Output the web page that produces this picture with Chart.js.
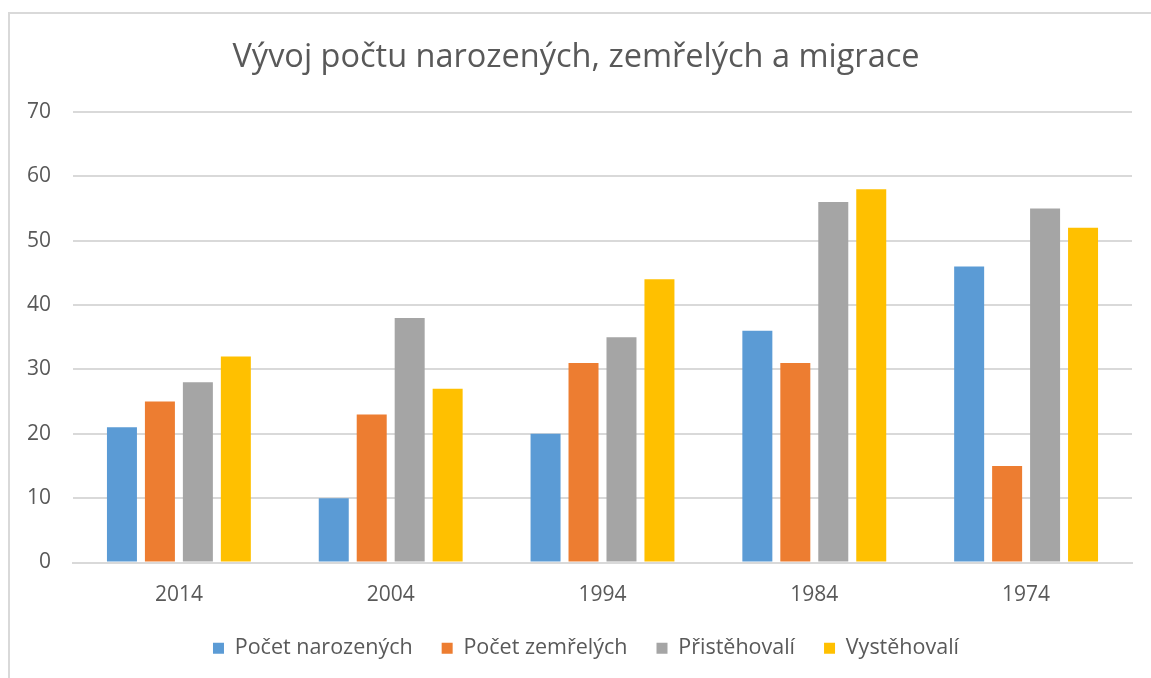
<!DOCTYPE html>
<html>
<head>
<meta charset="utf-8">
<script src="https://cdn.jsdelivr.net/npm/chart.js@4/dist/chart.umd.min.js"></script>
<style>
  html, body { margin: 0; padding: 0; background: #fff; overflow: hidden; }
  #frame { position: absolute; left: 8px; top: 12px; width: 1170px; height: 700px; border: 2px solid #d9d9d9; box-sizing: border-box; }
  #wrap { position: absolute; left: 0; top: 0; width: 1151px; height: 678px; }
</style>
</head>
<body>
<div id="frame"></div>
<div id="wrap"><canvas id="chart"></canvas></div>
<script>
const years = ["2014", "2004", "1994", "1984", "1974"];
const narozeni = [21, 10, 20, 36, 46];
const zemreli = [25, 23, 31, 31, 15];
const pristehovali = [28, 38, 35, 56, 55];
const vystehovali = [32, 27, 44, 58, 52];

const grey = "#595959";
const font = "'Open Sans', sans-serif";

// legend sits a bit right of centre in the original
const legendShift = {
  id: "legendShift",
  beforeDraw(chart) {
    const lg = chart.legend;
    if (lg && !lg._shifted) {
      const orig = lg.draw;
      lg.draw = function (...args) {
        chart.ctx.save();
        chart.ctx.translate(10, 0);
        orig.apply(this, args);
        chart.ctx.restore();
      };
      lg._shifted = true;
    }
  },
};

const ctx = document.getElementById("chart").getContext("2d");
const chart = new Chart(ctx, {
  type: "bar",
  data: {
    labels: years,
    datasets: [
      { label: "Počet narozených", data: narozeni, backgroundColor: "#5b9bd5" },
      { label: "Počet zemřelých", data: zemreli, backgroundColor: "#ed7d31" },
      { label: "Přistěhovalí", data: pristehovali, backgroundColor: "#a5a5a5" },
      { label: "Vystěhovalí", data: vystehovali, backgroundColor: "#ffc000" },
    ],
  },
  plugins: [legendShift],
  options: {
    responsive: true,
    maintainAspectRatio: false,
    animation: false,
    datasets: { bar: { categoryPercentage: 0.717, barPercentage: 0.79 } },
    layout: { padding: { left: 20, right: 19, top: 0, bottom: 9 } },
    plugins: {
      title: {
        display: true,
        text: "Vývoj počtu narozených, zemřelých a migrace",
        color: grey,
        font: { family: font, size: 32.5, weight: "normal" },
        padding: { top: 38, bottom: 35 },
      },
      legend: {
        position: "bottom",
        labels: {
          color: grey,
          font: { family: font, size: 21.5 },
          boxWidth: 11,
          boxHeight: 11,
          padding: 29,
        },
      },
      tooltip: { enabled: false },
    },
    scales: {
      x: {
        grid: { display: false },
        border: { color: "#d9d9d9", width: 2 },
        ticks: { color: grey, font: { family: font, size: 21 }, padding: 12 },
        afterFit: (scale) => { scale.height = 46; },
      },
      y: {
        min: 0,
        max: 70,
        ticks: { stepSize: 10, color: grey, font: { family: font, size: 21 }, padding: 22 },
        grid: { color: "#d9d9d9", lineWidth: 2, drawTicks: false },
        border: { display: false },
        afterFit: (scale) => { scale.width = 53; },
      },
    },
  },
});
chart.draw();
</script>
</body>
</html>
